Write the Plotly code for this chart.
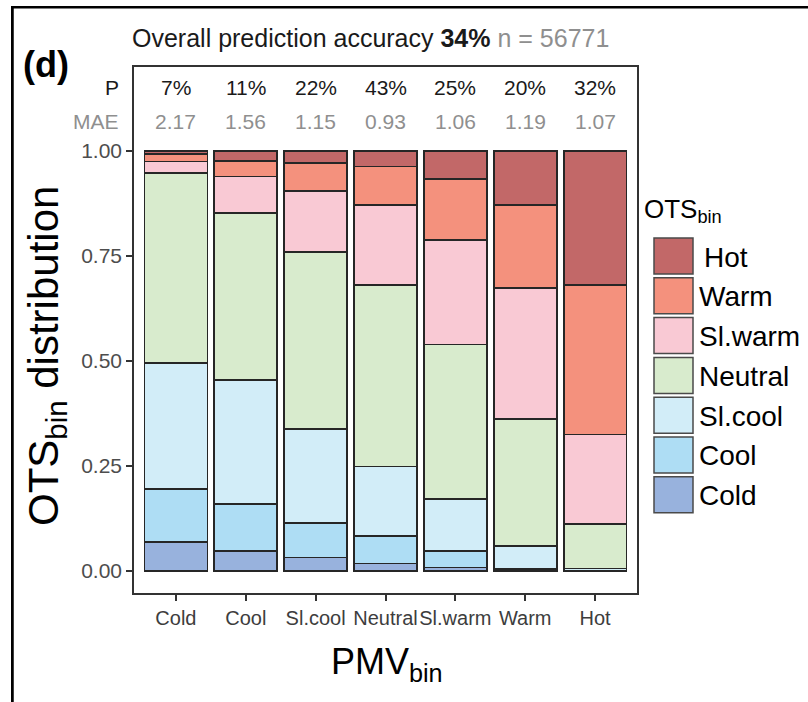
import plotly.graph_objects as go

# PMV bins on the x axis, OTS bins stacked inside each bar
pmv_bins = ["Cold", "Cool", "Sl.cool", "Neutral", "Sl.warm", "Warm", "Hot"]
ots_bins = ["Cold", "Cool", "Sl.cool", "Neutral", "Sl.warm", "Warm", "Hot"]

# share of each OTS bin within every PMV bin
ots_cold    = [0.069, 0.048, 0.032, 0.018, 0.008, 0.002, 0.000]
ots_cool    = [0.127, 0.111, 0.082, 0.066, 0.040, 0.004, 0.001]
ots_slcool  = [0.299, 0.295, 0.224, 0.165, 0.123, 0.054, 0.005]
ots_neutral = [0.453, 0.398, 0.422, 0.432, 0.368, 0.302, 0.106]
ots_slwarm  = [0.027, 0.087, 0.145, 0.190, 0.249, 0.311, 0.213]
ots_warm    = [0.018, 0.037, 0.067, 0.092, 0.145, 0.199, 0.356]
ots_hot     = [0.007, 0.024, 0.028, 0.037, 0.067, 0.128, 0.319]

mae = [2.17, 1.56, 1.15, 0.93, 1.06, 1.19, 1.07]
overall_accuracy = 34
n_total = 56771

colors = ["#98B2DD", "#AEDDF4", "#D2EDF8", "#D8EBCD", "#F9C9D4", "#F4917D", "#C26868"]
series = [ots_cold, ots_cool, ots_slcool, ots_neutral, ots_slwarm, ots_warm, ots_hot]

# prediction accuracy per PMV bin = share of matching OTS bin
accuracy = [series[i][i] for i in range(len(pmv_bins))]

FONT = "Liberation Sans, Arial, sans-serif"
W, H = 808, 702
L, R, T, B = 134, 171, 67, 109
PW, PH = W - L - R, H - T - B


def px_x(px):
    return (px - L) / PW


def px_y(py):
    return (H - B - py) / PH


def text(x, y, s, size, color="#000000", xref="paper", yref="paper", xanchor="center", **kw):
    return dict(x=x, y=y, xref=xref, yref=yref, text=s, showarrow=False,
                xanchor=xanchor, yanchor="middle",
                font=dict(size=size, color=color, family=FONT), **kw)


fig = go.Figure()
for name, vals, col in zip(ots_bins, series, colors):
    fig.add_trace(go.Bar(
        x=pmv_bins, y=vals, name=name, width=0.9,
        marker=dict(color=col, line=dict(color="#262626", width=1.7)),
        showlegend=False,
    ))

ann = []
# P and MAE rows above the bars
for cat, acc, m in zip(pmv_bins, accuracy, mae):
    ann.append(text(cat, 1.152, f"{round(acc * 100)}%", 21, "#1a1a1a", xref="x", yref="y"))
    ann.append(text(cat, 1.071, f"{m:.2f}", 21, "#8f8f8f", xref="x", yref="y"))
ann.append(text(px_x(121), 1.152, "P", 21, "#1a1a1a", yref="y", xanchor="right"))
ann.append(text(px_x(121), 1.071, "MAE", 21, "#8f8f8f", yref="y", xanchor="right"))

# title line
ann.append(text(px_x(370), px_y(38),
                f"Overall prediction accuracy <b>{overall_accuracy}%</b> "
                f"<span style='color:#8f8f8f'>n = {n_total}</span>", 25, "#1a1a1a"))
# panel tag
ann.append(text(px_x(46), px_y(64), "<b>(d)</b>", 36))
# axis titles
ann.append(text(px_x(387), px_y(664), "PMV<sub>bin</sub>", 36))
ann.append(text(px_x(46), px_y(356), "OTS<sub>bin</sub> distribution", 42, textangle=-90))

# legend drawn as keys + labels
shapes = []
ann.append(text(px_x(642), px_y(210), "OTS<sub>bin</sub>", 26, xanchor="left"))
for k, (name, col) in enumerate(zip(ots_bins[::-1], colors[::-1])):
    top = 238 + k * 39.8
    shapes.append(dict(type="rect", xref="paper", yref="paper",
                       x0=px_x(654), x1=px_x(693), y0=px_y(top), y1=px_y(top + 36),
                       fillcolor=col, line=dict(color="#4a4a4a", width=1.5)))
    ann.append(text(px_x(697 if name != "Hot" else 702), px_y(top + 19), name, 28,
                    xanchor="left"))

# outer frame: an empty bordered box whose right/bottom sides fall off the page
ann.append(dict(x=px_x(11), y=px_y(6), xref="paper", yref="paper", text=" ",
                showarrow=False, xanchor="left", yanchor="top",
                width=1200, height=1000, borderpad=0,
                bordercolor="#000000", borderwidth=2.5))
# left edge also as a filled strip
shapes.append(dict(type="rect", xref="paper", yref="paper",
                   x0=px_x(11), x1=px_x(13.5), y0=px_y(6), y1=px_y(702),
                   fillcolor="#000000", line=dict(width=0), layer="above"))

fig.update_layout(
    width=W, height=H, barmode="stack", bargap=0.1,
    margin=dict(l=L, r=R, t=T, b=B),
    paper_bgcolor="white", plot_bgcolor="white",
    annotations=ann, shapes=shapes,
    font=dict(family=FONT),
)
fig.update_xaxes(
    type="category", range=[-0.6, 6.6], showgrid=False,
    showline=True, mirror=True, linecolor="#333333", linewidth=1.5,
    ticks="outside", ticklen=6, tickcolor="#333333", tickwidth=1.5,
    tickangle=0, tickfont=dict(size=20, color="#3d3d3d", family=FONT),
)
fig.update_yaxes(
    range=[-0.0524, 1.2], showgrid=False, zeroline=False,
    showline=True, mirror=True, linecolor="#333333", linewidth=1.5,
    tickvals=[0, 0.25, 0.5, 0.75, 1.0], tickformat=".2f",
    ticks="outside", ticklen=6, tickcolor="#333333", tickwidth=1.5,
    tickfont=dict(size=21, color="#4d4d4d", family=FONT),
)

fig.write_html("out.html")
